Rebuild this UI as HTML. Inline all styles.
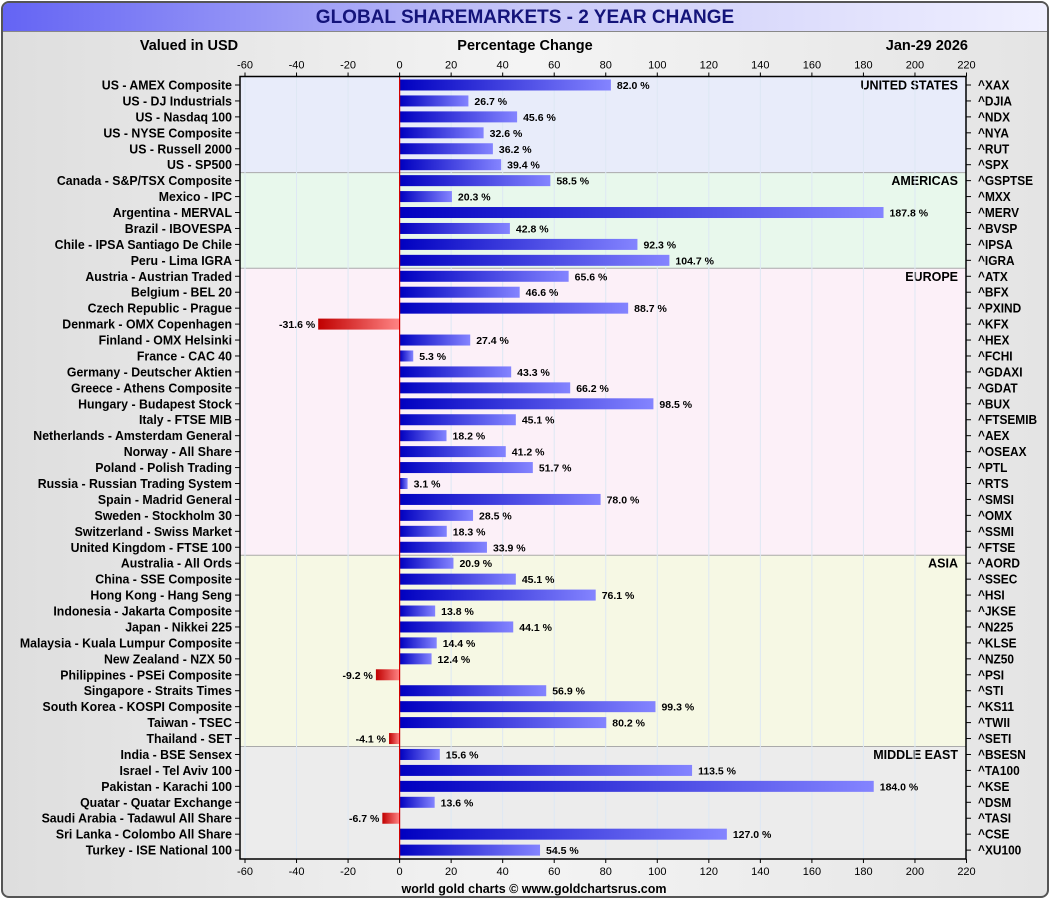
<!DOCTYPE html>
<html><head><meta charset="utf-8">
<style>
html,body{margin:0;padding:0;width:1050px;height:900px;overflow:hidden;background:#fff;font-family:"Liberation Sans",Arial,sans-serif;}
#frame{position:absolute;left:1px;top:1px;width:1044px;height:893px;border:2px solid #555;border-radius:8px;background:linear-gradient(90deg,#dedede,#f4f4f4 50%,#e4e4e4);overflow:hidden;}
#banner{position:absolute;left:0;top:0;width:100%;height:28px;background:linear-gradient(90deg,#6464f4,#c8c8f8 50%,#f0f0ff);border-bottom:1px solid #888;text-align:center;font-weight:bold;font-size:19px;line-height:29px;color:#14147a;}
</style></head><body>
<div id="frame">
<div id="banner">GLOBAL SHAREMARKETS - 2 YEAR CHANGE</div>
</div>
<svg id="chart" width="1050" height="900" style="position:absolute;left:0;top:0" xmlns="http://www.w3.org/2000/svg">
<defs>
<linearGradient id="gb" x1="0" x2="1" y1="0" y2="0"><stop offset="0" stop-color="#0000c0"/><stop offset="1" stop-color="#8484ff"/></linearGradient>
<linearGradient id="gr" x1="0" x2="1" y1="0" y2="0"><stop offset="0" stop-color="#c00000"/><stop offset="1" stop-color="#ff8484"/></linearGradient>
</defs>
</svg>
<script>
const labels=["US - AMEX Composite","US - DJ Industrials","US - Nasdaq 100","US - NYSE Composite","US - Russell 2000","US - SP500","Canada - S&P/TSX Composite","Mexico - IPC","Argentina - MERVAL","Brazil - IBOVESPA","Chile - IPSA Santiago De Chile","Peru - Lima IGRA","Austria - Austrian Traded","Belgium - BEL 20","Czech Republic - Prague","Denmark - OMX Copenhagen","Finland - OMX Helsinki","France - CAC 40","Germany - Deutscher Aktien","Greece - Athens Composite","Hungary - Budapest Stock","Italy - FTSE MIB","Netherlands - Amsterdam General","Norway - All Share","Poland - Polish Trading","Russia - Russian Trading System","Spain - Madrid General","Sweden - Stockholm 30","Switzerland - Swiss Market","United Kingdom - FTSE 100","Australia - All Ords","China - SSE Composite","Hong Kong - Hang Seng","Indonesia - Jakarta Composite","Japan - Nikkei 225","Malaysia - Kuala Lumpur Composite","New Zealand - NZX 50","Philippines - PSEi Composite","Singapore - Straits Times","South Korea - KOSPI Composite","Taiwan - TSEC","Thailand - SET","India - BSE Sensex","Israel - Tel Aviv 100","Pakistan - Karachi 100","Quatar - Quatar Exchange","Saudi Arabia - Tadawul All Share","Sri Lanka - Colombo All Share","Turkey - ISE National 100"];
const tickers=["^XAX","^DJIA","^NDX","^NYA","^RUT","^SPX","^GSPTSE","^MXX","^MERV","^BVSP","^IPSA","^IGRA","^ATX","^BFX","^PXIND","^KFX","^HEX","^FCHI","^GDAXI","^GDAT","^BUX","^FTSEMIB","^AEX","^OSEAX","^PTL","^RTS","^SMSI","^OMX","^SSMI","^FTSE","^AORD","^SSEC","^HSI","^JKSE","^N225","^KLSE","^NZ50","^PSI","^STI","^KS11","^TWII","^SETI","^BSESN","^TA100","^KSE","^DSM","^TASI","^CSE","^XU100"];
const values=[82.0,26.7,45.6,32.6,36.2,39.4,58.5,20.3,187.8,42.8,92.3,104.7,65.6,46.6,88.7,-31.6,27.4,5.3,43.3,66.2,98.5,45.1,18.2,41.2,51.7,3.1,78.0,28.5,18.3,33.9,20.9,45.1,76.1,13.8,44.1,14.4,12.4,-9.2,56.9,99.3,80.2,-4.1,15.6,113.5,184.0,13.6,-6.7,127.0,54.5];
const regionNames=["UNITED STATES","AMERICAS","EUROPE","ASIA","MIDDLE EAST"];
const regionCounts=[6,6,18,12,7];
const regionColors=["#e8ecfa","#e8f8ec","#fcf0f8","#f6f8e4","#ececec"];
const xTicks=[-60,-40,-20,0,20,40,60,80,100,120,140,160,180,200,220];

const svg=document.getElementById('chart');
const NS="http://www.w3.org/2000/svg";
const L=240,R=966,T=76.5,B=859;
const X=v=>245+(v+60)*(966.5-245)/280;
const rowH=15.94;
const Y=i=>85+rowH*i;
function mk(tag,attrs,txt){const e=document.createElementNS(NS,tag);for(const k in attrs)e.setAttribute(k,attrs[k]);if(txt!==undefined)e.textContent=txt;svg.appendChild(e);return e;}
function txt(x,y,s,anchor,size,name,weight){const a={x:x,y:y,'text-anchor':anchor,'font-size':size,'font-weight':weight||'bold','font-family':'Liberation Sans, Arial, sans-serif',fill:'#000'};const t=mk('text',a,s);return t;}

let start=0;
regionNames.forEach((n,r)=>{
  const y0=r===0?T:Y(start)-rowH/2,y1=(r===regionNames.length-1)?B:Y(start+regionCounts[r])-rowH/2;
  const rc=mk('rect',{x:L,y:y0,width:R-L,height:y1-y0,fill:regionColors[r]});
  
  
  if(r>0){const ln=mk('line',{x1:L,x2:R,y1:y0,y2:y0,stroke:'#aaa','stroke-width':1});}
  txt(R-8,Y(start)+4.5,n,'end',12.5,'region-label');
  start+=regionCounts[r];
});
xTicks.forEach(t=>{const g=mk('line',{x1:X(t),x2:X(t),y1:T,y2:B,stroke:'#dde8f4','stroke-width':1});});
txt(189,50,'Valued in USD','middle',14.5,'currency-note');
txt(525,50,'Percentage Change','middle',14.5,'x-axis-title');
txt(968,50,'Jan-29  2026','end',14.5,'date-label');
txt(534,893,'world gold charts © www.goldchartsrus.com','middle',12.5,'source-credit');
xTicks.forEach(t=>{
  mk('line',{x1:X(t),x2:X(t),y1:T-4,y2:T,stroke:'#000'});
  mk('line',{x1:X(t),x2:X(t),y1:B,y2:B+4,stroke:'#000'});
  txt(X(t),T-8,String(t),'middle',11,'x-tick-top','normal');
  txt(X(t),B+16,String(t),'middle',11,'x-tick-bottom','normal');
});
values.forEach((v,i)=>{
  const y=Y(i),x0=X(0),x1=X(v);
  const r=mk('rect',{x:Math.min(x0,x1),y:y-5.5,width:Math.abs(x1-x0),height:11,fill:v>=0?'url(#gb)':'url(#gr)'});
  
  
  const s=v.toFixed(1)+' %';
  if(v>=0)txt(x1+6,y+4,s,'start',10.5,'value-label');else txt(x1-3,y+4,s,'end',10.5,'value-label');
  mk('line',{x1:L-5,x2:L,y1:y,y2:y,stroke:'#000'});
  mk('line',{x1:R,x2:R+5,y1:y,y2:y,stroke:'#000'});
  const t=txt(L-8,y+4.5,labels[i],'end',12.5,'category-label');
  const w=t.getComputedTextLength();t.setAttribute('textLength',(w*0.985).toFixed(1));t.setAttribute('lengthAdjust','spacingAndGlyphs');
  const k=txt(R+12,y+4.5,tickers[i],'start',12.5,'ticker-label');
  const w2=k.getComputedTextLength();k.setAttribute('textLength',(w2*0.95).toFixed(1));k.setAttribute('lengthAdjust','spacingAndGlyphs');
});
const z=mk('line',{x1:X(0),x2:X(0),y1:T,y2:B,stroke:'#d00000','stroke-width':1.2});
const bd=mk('rect',{x:L,y:T,width:R-L,height:B-T,fill:'none',stroke:'#000','stroke-width':1.5});
</script>
</body></html>
